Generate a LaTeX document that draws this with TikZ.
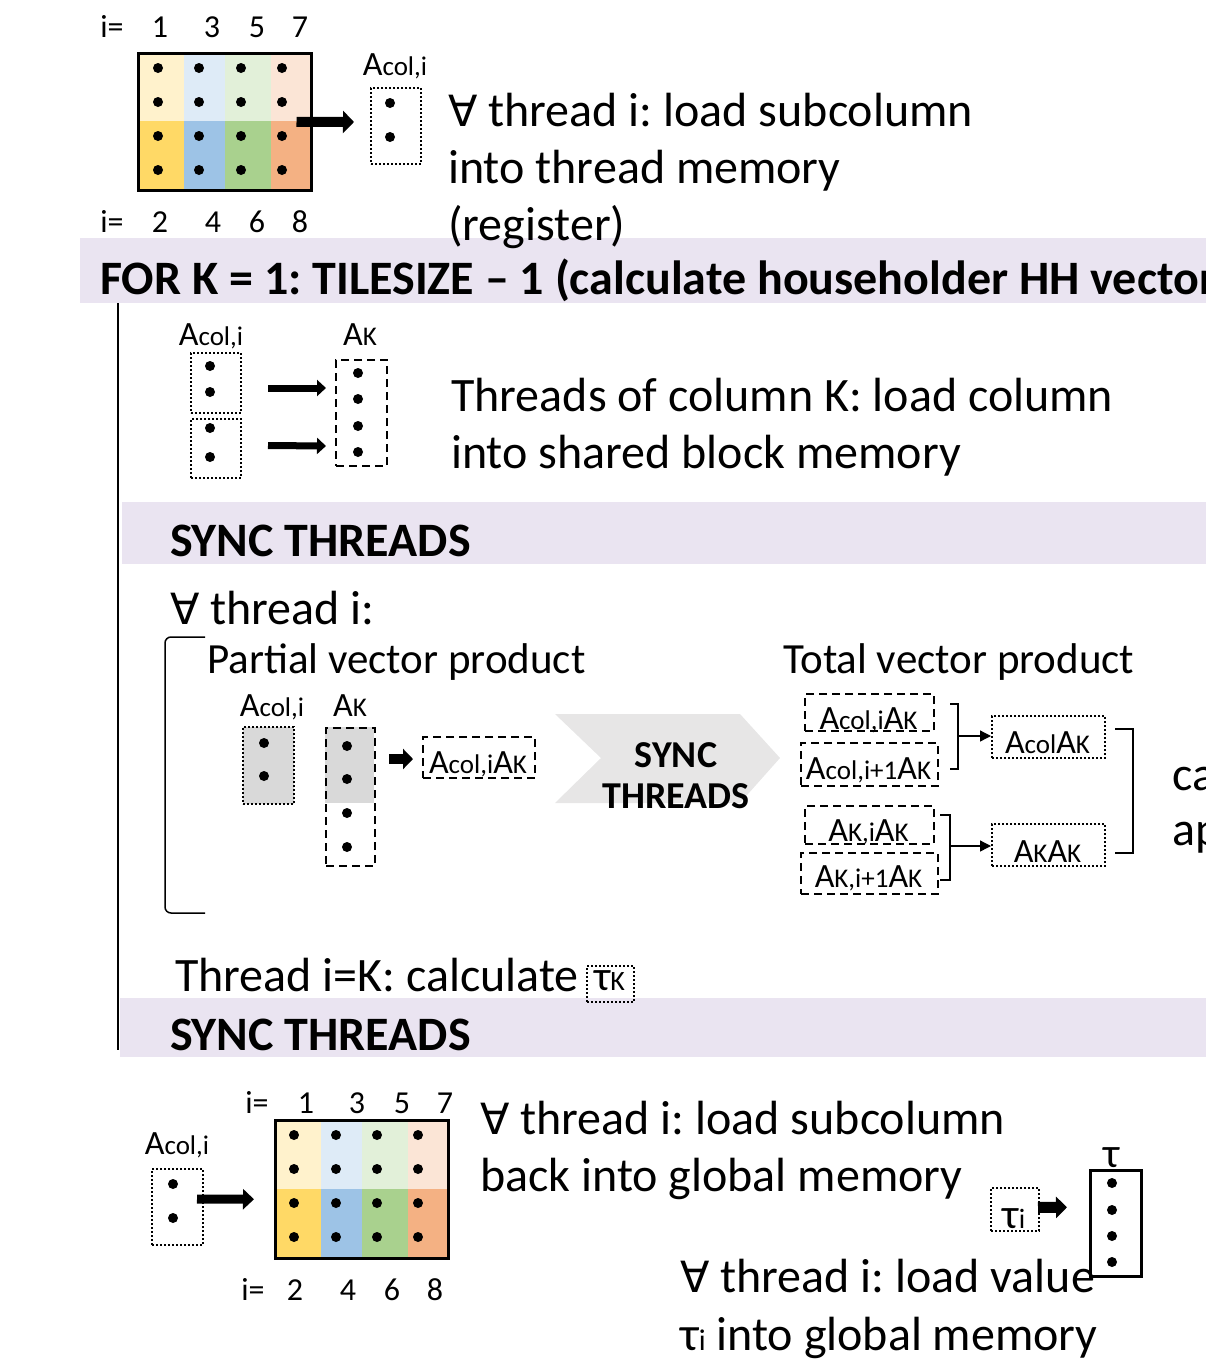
\documentclass[tikz,border=0pt]{standalone}
\usepackage{fontspec}
\setmainfont{Carlito}
\newfontfamily\symfont{DejaVu Sans}
\usetikzlibrary{arrows.meta,calc}
\newcommand\myfs[1]{\fontsize{#1}{#1}\selectfont}
\newcommand\Alab[1]{{\myfs{34}A\myfs{27}#1}}
\newcommand\FA{{\symfont\myfs{43}∀}}
\definecolor{yl}{HTML}{FFF2CC}
\definecolor{yd}{HTML}{FFD966}
\definecolor{bl}{HTML}{DEEBF7}
\definecolor{bd}{HTML}{9DC3E6}
\definecolor{gl}{HTML}{E2F0D9}
\definecolor{gd}{HTML}{A9D18E}
\definecolor{ol}{HTML}{FBE5D6}
\definecolor{od}{HTML}{F4B183}
\definecolor{bandc}{HTML}{EAE4F1}
\definecolor{grayone}{HTML}{D9D9D9}
\definecolor{chevc}{HTML}{E7E6E6}
\begin{document}
\frenchspacing
\begin{tikzpicture}[x=1pt,y=-1pt,
  lab/.style={inner sep=0, anchor=base, font=\myfs{32}},
  albl/.style={inner sep=0, anchor=base},
  txt/.style={inner sep=0, anchor=base west, font=\myfs{48}},
  btxt/.style={inner sep=0, anchor=base west, font=\bfseries\myfs{48}},
  dotbox/.style={draw, line width=2pt, dash pattern=on 2pt off 2pt, inner sep=0, anchor=north west},
  dashbox/.style={draw, line width=2pt, dash pattern=on 8pt off 5pt, inner sep=0, anchor=north west},
  solidbox/.style={draw, line width=2.5pt, inner sep=0, anchor=north west},
  bigarrow/.style={line width=10pt, -{Triangle[length=11pt,width=22pt]}},
  midarrow/.style={line width=7pt, -{Triangle[length=9pt,width=16pt]}},
  thinarrow/.style={line width=1.3pt, -{Triangle[length=11pt,width=11pt]}},
  brk/.style={line width=1.3pt}]
\useasboundingbox (0,0) rectangle (1206,1368);
\clip (0,0) rectangle (1206,1368);

% ---------- bands (behind everything) ----------
\fill[bandc] (80,238) rectangle (1210,303);
\fill[bandc] (122,502) rectangle (1210,564);
\fill[bandc] (120,998) rectangle (1210,1057);

% ---------- top grid ----------
\fill[yl] (137,52) rectangle (184,121);
\fill[bl] (184,52) rectangle (225,121);
\fill[gl] (225,52) rectangle (271,121);
\fill[ol] (271,52) rectangle (310,121);
\fill[yd] (137,121) rectangle (184,189);
\fill[bd] (184,121) rectangle (225,189);
\fill[gd] (225,121) rectangle (271,189);
\fill[od] (271,121) rectangle (310,189);
\foreach \x in {158,199,241,282}
  \foreach \y in {68,102,136,170}
    \fill (\x,\y) circle[radius=5pt];
\node[solidbox, minimum width=173, minimum height=137] (grid1) at (137,52) {};
\node[lab] (ti) at (112,37.5) {i=};
\node[lab] (t1) at (160,37.5) {1};
\node[lab] (t3) at (212,37.5) {3};
\node[lab] (t5) at (257,37.5) {5};
\node[lab] (t7) at (300,37.5) {7};
\node[lab] (bi) at (112,232) {i=};
\node[lab] (b2) at (160,232) {2};
\node[lab] (b4) at (213,232) {4};
\node[lab] (b6) at (257,232) {6};
\node[lab] (b8) at (300,232) {8};

\node[albl] (acolTlab) at (395,75) {\Alab{col,i}};
\node[dotbox, minimum width=50, minimum height=76] (acolT) at (370,87) {};
\fill (390,103) circle[radius=5pt];
\fill (390,137) circle[radius=5pt];
\draw[bigarrow] ($(grid1.east)+(-16,0)$) -- ($(acolT.west)+(-16,-4)$);

\node[txt] (l1) at (448,126) {\FA\ thread i: load subcolumn};
\node[txt] (l2) at (448,183) {into thread memory};
\node[txt] (l3) at (448,240) {(register)};

% ---------- FOR ----------
\node[btxt] (forK) at (100,294) {FOR K = 1: TILESIZE – 1 (calculate householder HH vector)};
\draw[line width=2.5pt] (118,303) -- (118,1050);

% ---------- load column K ----------
\node[albl] (acolBlab) at (211,345) {\Alab{col,i}};
\node[albl] (akBlab) at (360,345) {\Alab{K}};
\node[dotbox, minimum width=50, minimum height=60] (acB1) at (190,352) {};
\node[dotbox, minimum width=50, minimum height=59] (acB2) at (190,418) {};
\node[dashbox, minimum width=51, minimum height=106] (akB) at (335,359) {};
\foreach \y in {366,392,428,457} \fill (210,\y) circle[radius=5pt];
\foreach \y in {373,399,426,452} \fill (358,\y) circle[radius=5pt];
\draw[midarrow] ($(acB1.east)+(26,5)$) -- ($(akB.west)+(-9,-25)$);
\draw[midarrow] ($(acB2.east)+(26,-3)$) -- ($(akB.west)+(-9,33)$);
\node[txt] (l4) at (451,411) {Threads of column K: load column};
\node[txt] (l5) at (451,468) {into shared block memory};

% ---------- SYNC ----------
\node[btxt] (sync1) at (170,556) {SYNC THREADS};

\node[txt] (l6) at (170,624) {\FA\ thread i:};
\draw[line width=1.5pt, rounded corners=6pt] (205,637) -- (165,637) -- (165,913) -- (205,913);
\node[txt, font=\myfs{43}] (pvp) at (207,673) {Partial vector product};
\node[txt, font=\myfs{43}] (tvp) at (783,673) {Total vector product};

% partial product
\node[albl] (pAlab) at (272,716) {\Alab{col,i}};
\node[albl] (pKlab) at (350,716) {\Alab{K}};
\node[dotbox, fill=grayone, minimum width=51, minimum height=77] (pA) at (242,726) {};
\fill[grayone] (325,727) rectangle (374,803);
\node[dashbox, minimum width=49, minimum height=138] (pK) at (325,727) {};
\foreach \y in {743,776} \fill (264,\y) circle[radius=5pt];
\foreach \y in {746,779,813,847} \fill (347,\y) circle[radius=5pt];
\node[dashbox, minimum width=112, minimum height=41] (pP) at (422,736) {};
\node[albl] (pPt) at (478,773) {\Alab{col,i}\Alab{K}};
\draw[line width=10pt, -{Triangle[length=10pt,width=20pt]}] ($(pK.east)+(13,-38)$) -- ($(pP.west)+(-9,1.5)$);

% chevron
\fill[chevc] (555,714) -- (740,714) -- (780,758) -- (740,803) -- (555,803) -- (601,758) -- cycle;
\node[albl, font=\bfseries\myfs{38}] (chev1) at (676,767) {SYNC};
\node[albl, font=\bfseries\myfs{38}] (chev2) at (676,808) {THREADS};

% total product
\node[dashbox, minimum width=129, minimum height=37] (tb1) at (804,693) {};
\node[albl] (tb1t) at (868.5,729) {\Alab{col,i}\Alab{K}};
\node[dashbox, minimum width=137, minimum height=43] (tb2) at (800,742) {};
\node[albl] (tb2t) at (868.5,779) {\Alab{col,i+1}\Alab{K}};
\node[dashbox, minimum width=129, minimum height=38] (tb3) at (804,805) {};
\node[albl] (tb3t) at (868.5,841) {\Alab{K,i}\Alab{K}};
\node[dashbox, minimum width=137, minimum height=41] (tb4) at (800,852) {};
\node[albl] (tb4t) at (868.5,887) {\Alab{K,i+1}\Alab{K}};

\node[dotbox, minimum width=113, minimum height=42] (d1) at (991,715) {};
\node[albl] (d1t) at (1047.5,753) {\Alab{col}\Alab{K}};
\node[dotbox, minimum width=113, minimum height=42] (d2) at (991,823) {};
\node[albl] (d2t) at (1047.5,862) {\Alab{K}\Alab{K}};

\draw[brk] (950,704) -- (958,704) -- (958,769) -- (950,769);
\coordinate (j1) at (958,736);
\draw[thinarrow] (j1) -- (d1.west |- j1);
\draw[brk] (940,815) -- (950,815) -- (950,880) -- (940,880);
\coordinate (j2) at (950,846);
\draw[thinarrow] (j2) -- (d2.west |- j2);
\draw[brk] (1115,729) -- (1133,729) -- (1133,853) -- (1115,853);
\node[txt] (ca) at (1172,790) {ca};
\node[txt] (ap) at (1172,845) {ap};

% ---------- tau K ----------
\node[txt] (thk) at (175,991) {Thread i=K: calculate};
\node[dotbox, minimum width=47, minimum height=36] (tauK) at (586,965) {};
\node[albl] (tauKt) at (609.5,990) {{\myfs{42}τ}{\myfs{28}K}};
\node[btxt] (sync2) at (170,1050) {SYNC THREADS};

% ---------- bottom ----------
\node[albl] (acBotlab) at (177,1154) {\Alab{col,i}};
\node[dotbox, minimum width=51, minimum height=76] (acBot) at (151,1168) {};
\fill (173,1184) circle[radius=5pt];
\fill (173,1218) circle[radius=5pt];

\fill[yl] (274,1119) rectangle (321,1189);
\fill[bl] (321,1119) rectangle (362,1189);
\fill[gl] (362,1119) rectangle (408,1189);
\fill[ol] (408,1119) rectangle (447,1189);
\fill[yd] (274,1189) rectangle (321,1257);
\fill[bd] (321,1189) rectangle (362,1257);
\fill[gd] (362,1189) rectangle (408,1257);
\fill[od] (408,1189) rectangle (447,1257);
\foreach \x in {294,336,377,418}
  \foreach \y in {1135,1169,1203,1237}
    \fill (\x,\y) circle[radius=5pt];
\node[solidbox, minimum width=173, minimum height=138] (grid2) at (274,1119) {};
\draw[line width=9pt, -{Triangle[length=11pt,width=20pt]}] ($(acBot.east)+(-7,-8)$) -- ($(grid2.west)+(-20,10)$);

\node[lab] (ti2) at (257,1113) {i=};
\node[lab] (t12) at (306,1113) {1};
\node[lab] (t32) at (357,1113) {3};
\node[lab] (t52) at (402,1113) {5};
\node[lab] (t72) at (445,1113) {7};
\node[lab] (bi2) at (253,1300) {i=};
\node[lab] (b22) at (295,1300) {2};
\node[lab] (b42) at (348,1300) {4};
\node[lab] (b62) at (392,1300) {6};
\node[lab] (b82) at (435,1300) {8};

\node[txt] (l7) at (480,1134) {\FA\ thread i: load subcolumn};
\node[txt] (l8) at (480,1191) {back into global memory};

\node[albl, font=\myfs{42}] (tauLab) at (1112,1167) {τ};
\node[solidbox, minimum width=51, minimum height=106] (tauV) at (1089,1169) {};
\foreach \y in {1183,1210,1236,1262} \fill (1112,\y) circle[radius=5pt];
\node[dotbox, minimum width=48, minimum height=43] (tauI) at (990,1187) {};
\node[albl] (tauIt) at (1014,1228) {{\myfs{42}τ}{\myfs{28}i}};
\draw[line width=11pt, -{Triangle[length=11pt,width=21pt]}] ($(tauI.east)+(-2,-2)$) -- ($(tauV.west)+(-22,-16)$);

\node[txt] (l9) at (680,1292) {\FA\ thread i: load value};
\node[txt] (l10) at (680,1350) {τ{\myfs{30}i} into global memory};
\end{tikzpicture}
\end{document}
